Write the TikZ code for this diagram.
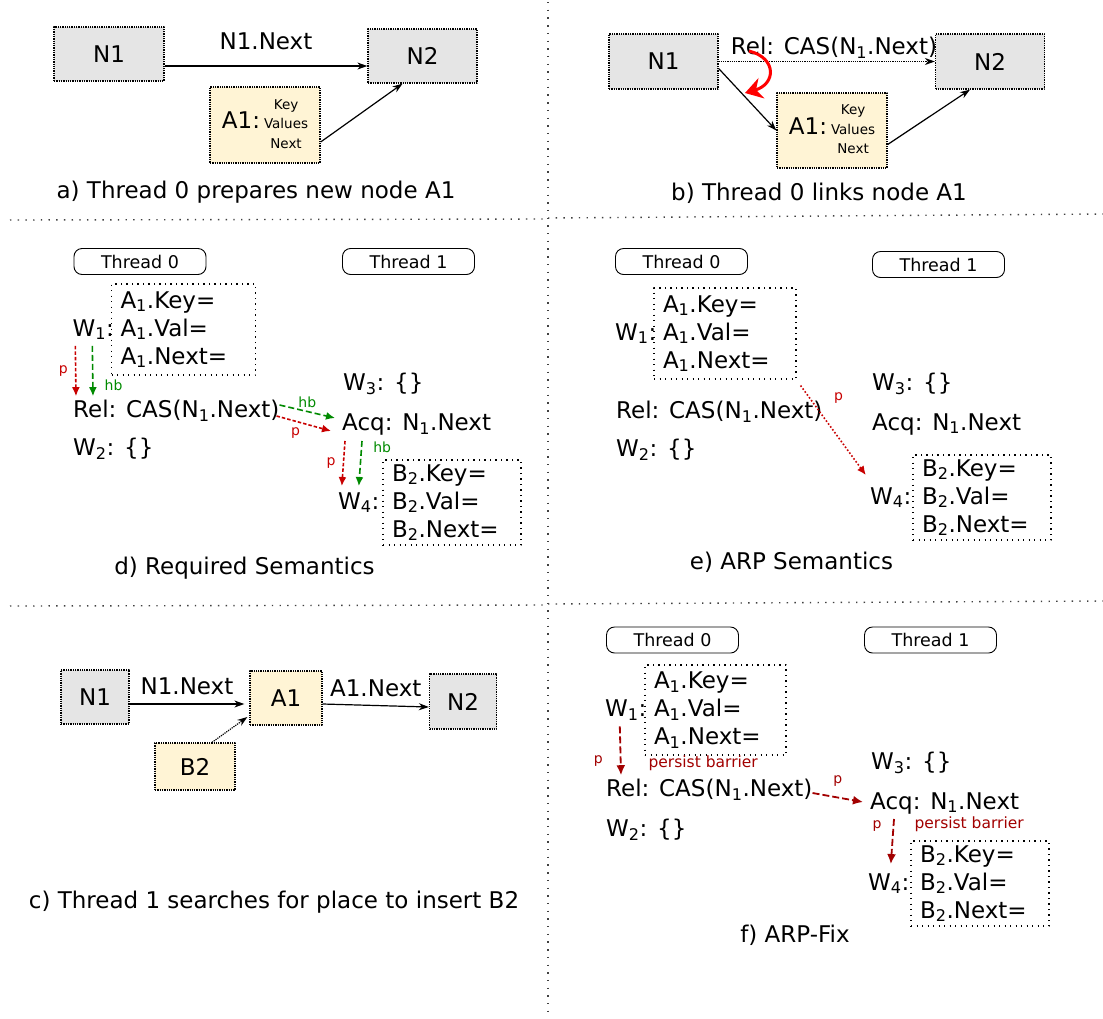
\documentclass[tikz,border=0pt]{standalone}
\usepackage{fontspec}
\setmainfont{DejaVu Sans}
\usetikzlibrary{arrows.meta}
\definecolor{boxgray}{HTML}{E5E5E5}
\definecolor{boxyellow}{HTML}{FFF4D5}
\definecolor{pred}{HTML}{C80000}
\definecolor{pdark}{HTML}{A20000}
\definecolor{hbgreen}{HTML}{008A00}
\newcommand{\bigf}{\fontsize{23}{28}\selectfont}
\newcommand{\thrf}{\fontsize{17.5}{21}\selectfont}
\newcommand{\keyf}{\fontsize{13.5}{19.5}\selectfont}
\newcommand{\lblf}{\fontsize{14}{17}\selectfont}
\newcommand{\pbf}{\fontsize{15.5}{18}\selectfont}
\tikzset{
  gnode/.style={draw, densely dotted, line width=1.3pt, fill=boxgray, inner sep=0pt},
  ynode/.style={gnode, fill=boxyellow},
  thread/.style={draw, line width=0.9pt, rounded corners=8pt, minimum width=132pt, minimum height=26pt, inner sep=0pt, font=\thrf},
  wbox/.style={draw, line width=1.1pt, dash pattern=on 1.1pt off 4.4pt, align=left, text width=#1, inner xsep=9pt, inner ysep=0pt},
  stmt/.style={anchor=west, inner sep=0pt},
  wlbl/.style={anchor=east, inner sep=0pt},
  link/.style={-{Stealth[length=10pt,width=7pt]}, line width=1.2pt},
  pd/.style={-{Latex[length=9pt,width=8pt]}, pred, line width=1.6pt, dash pattern=on 3.5pt off 2pt},
  hbd/.style={-{Latex[length=9pt,width=8pt]}, hbgreen, line width=1.6pt, dash pattern=on 6pt off 3pt},
  pdot/.style={-{Latex[length=9pt,width=8pt]}, pred, line width=1.6pt, dash pattern=on 1.6pt off 2pt},
  pfix/.style={-{Latex[length=10pt,width=9pt]}, pdark, line width=1.8pt, dash pattern=on 7pt off 3pt},
  pl/.style={font=\lblf, inner sep=2pt},
  divider/.style={black!75, line width=1.4pt, dash pattern=on 1.4pt off 6.3pt}
}
\begin{document}
\begin{tikzpicture}[x=1pt, y=-1pt, font=\bigf, line join=round]
\useasboundingbox (0,0) rectangle (1103,1018);
\draw[divider] (548,2) -- (548,1016);
\draw[divider] (10,220) -- (548,219);
\draw[divider] (548,218) -- (1103,214);
\draw[divider] (10,606) -- (548,605);
\draw[divider] (548,604) -- (1103,601);

% a)
\node[gnode, minimum width=110pt, minimum height=54pt] (an1) at (109,54) {N1};
\node[gnode, minimum width=109pt, minimum height=54pt] (an2) at (422.5,56) {N2};
\node[ynode, minimum width=110pt, minimum height=76pt] (aa1) at (265,125) {A1:\hspace{4pt}{\keyf\begin{tabular}{@{}c@{}}Key\\Values\\Next\end{tabular}}};
\draw[link] ([yshift=-12pt]an1.east) -- ([yshift=-10pt]an2.west) node[midway, above=14pt, inner sep=2pt]{N1.Next};
\draw[link] ([yshift=-17pt]aa1.east) -- ([xshift=-20pt]an2.south);
\node (acap) at (256,192) {a) Thread 0 prepares new node A1};

% b)
\node[gnode, minimum width=109pt, minimum height=55pt] (bn1) at (663.5,61.5) {N1};
\node[gnode, minimum width=109pt, minimum height=55pt] (bn2) at (990,61.5) {N2};
\node[ynode, minimum width=110pt, minimum height=75pt] (ba1) at (832,130.5) {A1:\hspace{4pt}{\keyf\begin{tabular}{@{}c@{}}Key\\Values\\Next\end{tabular}}};
\draw[link, densely dotted] (bn1) -- (bn2);
\node[inner sep=0pt] (brel) at (834,48) {Rel: CAS(N\textsubscript{1}.Next)};
\draw[link] ([yshift=-7pt]bn1.east) -- (ba1.west);
\draw[link] ([yshift=-14pt]ba1.east) -- ([xshift=-20pt]bn2.south);
\coordinate (bc0) at (749,51);
\coordinate (bc1) at (745,93);
\draw[red, line width=3pt, -{Stealth[length=17pt,width=21pt]}] (bc0) .. controls (777,58) and (776,84) .. (bc1);
\node (bcap) at (819,193) {b) Thread 0 links node A1};

% c)
\node[gnode, minimum width=68pt, minimum height=54pt] (cn1) at (95,697) {N1};
\node[ynode, minimum width=72pt, minimum height=54pt] (ca1) at (286,698) {A1};
\node[gnode, minimum width=67pt, minimum height=55pt] (cn2) at (463,701.5) {N2};
\node[ynode, minimum width=80pt, minimum height=47pt] (cb2) at (195,766.5) {B2};
\draw[link] ([yshift=-7pt]cn1.east) -- ([xshift=-5pt,yshift=-6pt]ca1.west) node[midway, above=7pt, inner sep=2pt]{N1.Next};
\draw[link] ([yshift=-6pt]ca1.east) -- ([yshift=-5.5pt]cn2.west) node[midway, above=6pt, inner sep=2pt]{A1.Next};
\draw[link, densely dotted] ([xshift=17pt]cb2.north) -- ([xshift=-2pt,yshift=-19pt]ca1.west);
\node (ccap) at (274,902) {c) Thread 1 searches for place to insert B2};

% d)
\node[thread] (dt0) at (140,261.5) {Thread 0};
\node[thread] (dt1) at (408.5,261.5) {Thread 1};
\node[wbox=126pt, minimum height=91pt] (dwa) at (183.5,329.5) {A\textsubscript{1}.Key=\\A\textsubscript{1}.Val=\\A\textsubscript{1}.Next=};
\node[wlbl] (dw1) at ([xshift=3pt]dwa.west) {W\textsubscript{1}:};
\node[stmt] (drel) at (73,411) {Rel: CAS(N\textsubscript{1}.Next)};
\node[stmt] (dw2) at (73,449) {W\textsubscript{2}: \{\}};
\node[stmt] (dw3) at (343,384) {W\textsubscript{3}: \{\}};
\node[stmt] (dacq) at (342,425) {Acq: N\textsubscript{1}.Next};
\node[wbox=120pt, minimum height=85pt] (dwb) at (452,502.5) {B\textsubscript{2}.Key=\\B\textsubscript{2}.Val=\\B\textsubscript{2}.Next=};
\node[wlbl] (dw4) at ([xshift=-3pt]dwb.west) {W\textsubscript{4}:};
\draw[pd] ([xshift=3pt,yshift=-6pt]dw1.south west) -- ([xshift=3pt,yshift=4pt]drel.north west) node[midway, left=5pt, pl]{p};
\draw[hbd] ([xshift=20pt,yshift=-6pt]dw1.south west) -- ([xshift=20pt,yshift=4pt]drel.north west) node[pos=.78, right=9pt, pl]{hb};
\draw[hbd] ([yshift=6pt]drel.east) -- ([xshift=-7pt,yshift=7pt]dacq.west) node[midway, above=1pt, pl]{hb};
\draw[pd] ([xshift=-3pt,yshift=-5pt]drel.east) -- ([xshift=-11pt,yshift=-6pt]dacq.west) node[pos=.35, below=4pt, pl]{p};
\draw[pd] ([xshift=3pt,yshift=-5pt]dacq.south west) -- ([xshift=4pt,yshift=6pt]dw4.north west) node[midway, left=5pt, pl]{p};
\draw[hbd] ([xshift=20pt,yshift=-5pt]dacq.south west) -- ([xshift=21pt,yshift=6pt]dw4.north west) node[pos=.15, right=9pt, pl]{hb};
\node (dcap) at (244.5,568) {d) Required Semantics};

% e)
\node[thread] (et0) at (681.5,261.5) {Thread 0};
\node[thread] (et1) at (938.5,264.5) {Thread 1};
\node[wbox=124pt, minimum height=91pt] (ewa) at (725,333.5) {A\textsubscript{1}.Key=\\A\textsubscript{1}.Val=\\A\textsubscript{1}.Next=};
\node[wlbl] (ew1) at ([xshift=3pt]ewa.west) {W\textsubscript{1}:};
\node[stmt] (erel) at (616,412) {Rel: CAS(N\textsubscript{1}.Next)};
\node[stmt] (ew2) at (616,450) {W\textsubscript{2}: \{\}};
\node[stmt] (ew3) at (872,384) {W\textsubscript{3}: \{\}};
\node[stmt] (eacq) at (872,424) {Acq: N\textsubscript{1}.Next};
\node[wbox=120pt, minimum height=85pt] (ewb) at (982,497.5) {B\textsubscript{2}.Key=\\B\textsubscript{2}.Val=\\B\textsubscript{2}.Next=};
\node[wlbl] (ew4) at ([xshift=-1pt]ewb.west) {W\textsubscript{4}:};
\draw[pdot] ([xshift=4pt,yshift=-6pt]ewa.south east) -- ([xshift=-4pt,yshift=12pt]ew4.north west) node[pos=.2, xshift=25pt, yshift=5pt, pl]{p};
\node (ecap) at (791.5,562) {e) ARP Semantics};

% f)
\node[thread] (ft0) at (672.5,640) {Thread 0};
\node[thread] (ft1) at (930.5,640) {Thread 1};
\node[wbox=123pt, minimum height=90pt] (fwa) at (715.5,710) {A\textsubscript{1}.Key=\\A\textsubscript{1}.Val=\\A\textsubscript{1}.Next=};
\node[wlbl] (fw1) at ([xshift=2pt]fwa.west) {W\textsubscript{1}:};
\node[stmt] (frel) at (606,790) {Rel: CAS(N\textsubscript{1}.Next)};
\node[stmt] (fw2) at (606,830) {W\textsubscript{2}: \{\}};
\node[stmt] (fw3) at (871,763) {W\textsubscript{3}: \{\}};
\node[stmt] (facq) at (870,803) {Acq: N\textsubscript{1}.Next};
\node[wbox=120pt, minimum height=85pt] (fwb) at (980,883.5) {B\textsubscript{2}.Key=\\B\textsubscript{2}.Val=\\B\textsubscript{2}.Next=};
\node[wlbl] (fw4) at ([xshift=-1pt]fwb.west) {W\textsubscript{4}:};
\draw[pfix] ([xshift=15pt,yshift=-6pt]fw1.south west) -- ([xshift=15pt,yshift=4pt]frel.north west) node[pos=.7, left=15pt, pl]{p} node[pos=.75, right=25pt, pl, font=\pbf]{persist barrier};
\draw[pfix] ([yshift=-3pt]frel.east) -- ([xshift=-7pt,yshift=1pt]facq.west) node[midway, above=8pt, pl]{p};
\draw[pfix] ([xshift=24pt,yshift=-5pt]facq.south west) -- ([xshift=23pt,yshift=9pt]fw4.north west) node[pos=.15, left=9pt, pl]{p} node[pos=.12, right=18pt, pl, font=\pbf]{persist barrier};
\node (fcap) at (795,935) {f) ARP-Fix};
\end{tikzpicture}
\end{document}
